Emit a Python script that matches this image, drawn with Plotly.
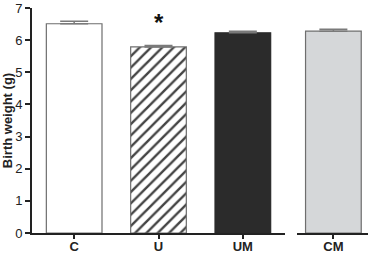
import plotly.graph_objects as go

groups_main = ["C", "U", "UM"]
values_main = [6.51, 5.79, 6.23]
errors_main = [0.08, 0.04, 0.05]
groups_side = ["CM"]
values_side = [6.28]
errors_side = [0.06]
y_ticks = [0, 1, 2, 3, 4, 5, 6, 7]

fills = ["#ffffff", "#ffffff", "#2b2b2b"]
edges = ["#6e6e6e", "#6e6e6e", "#2b2b2b"]
shapes = ["", "/", ""]

fig = go.Figure()
fig.add_trace(go.Bar(
    x=groups_main, y=values_main, width=0.66,
    marker=dict(color=fills, line=dict(color=edges, width=1.2),
                pattern=dict(shape=shapes, fgcolor="#000000", bgcolor="#ffffff",
                             size=8, solidity=0.3, fgopacity=1)),
    error_y=dict(type="data", array=errors_main, symmetric=False, arrayminus=[0, 0, 0],
                 color="#7a7a7a", thickness=1.5, width=14),
    xaxis="x", yaxis="y", showlegend=False))
fig.add_trace(go.Bar(
    x=groups_side, y=values_side, width=0.66,
    marker=dict(color="#d5d7d9", line=dict(color="#6e6e6e", width=1.2)),
    error_y=dict(type="data", array=errors_side, symmetric=False, arrayminus=[0],
                 color="#7a7a7a", thickness=1.5, width=14),
    xaxis="x2", yaxis="y", showlegend=False))

fig.add_annotation(x="U", y=6.55, xref="x", yref="y", text="<b>*</b>", showarrow=False,
                   font=dict(size=24, color="#111111", family="Arial"), yanchor="middle")

axis_font = dict(family="Liberation Sans, Arial", size=13, color="#222222")
common = dict(showline=True, linecolor="#222222", linewidth=2, ticks="outside",
              tickwidth=1.5, tickcolor="#222222", tickfont=axis_font, showgrid=False,
              zeroline=False, tickprefix="<b>", ticksuffix="</b>", automargin=False)
fig.update_layout(
    width=378, height=255, margin=dict(l=32, r=10, t=8, b=22),
    plot_bgcolor="white", paper_bgcolor="white",
    xaxis=dict(common, domain=[0, 0.753], range=[-0.5, 2.5], ticklen=4, ticklabelstandoff=-4),
    xaxis2=dict(common, domain=[0.789, 1], range=[-0.43, 0.41], ticklen=4, anchor="y",
                ticklabelstandoff=-4),
    yaxis=dict(common, range=[0, 7], tickvals=y_ticks, ticklen=5,
               title=dict(text="<b>Birth weight (g)</b>", font=axis_font)),
)
fig.write_html("out.html")
